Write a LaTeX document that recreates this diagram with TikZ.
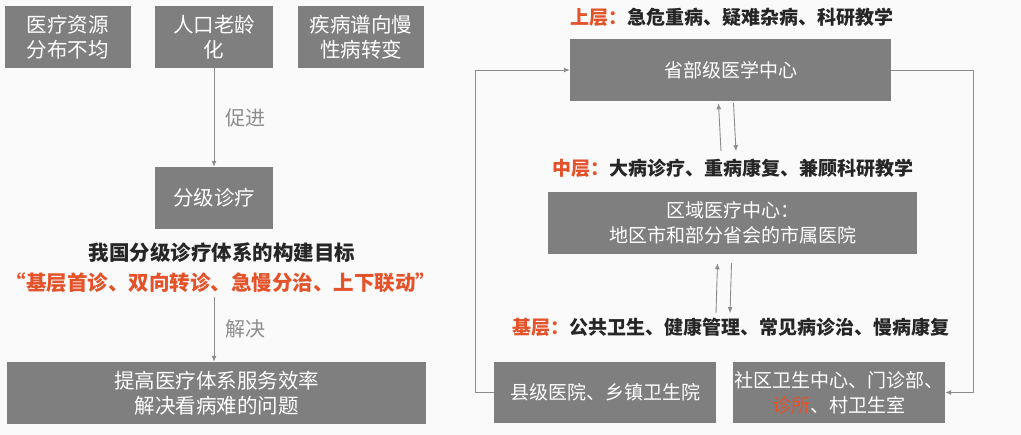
\documentclass[tikz,border=0pt]{standalone}
\usepackage{fontspec}
\setmainfont{Noto Sans CJK SC}
\usetikzlibrary{arrows.meta, positioning, calc}
\definecolor{boxgray}{RGB}{127, 127, 127}
\definecolor{linegray}{RGB}{140, 140, 140}
\definecolor{keyred}{RGB}{228, 82, 42}
\definecolor{paper}{RGB}{250, 250, 250}
\tikzset{
    box/.style={rectangle, fill=boxgray, text=white, align=center, font=\fontsize{19}{25}\selectfont, inner sep=0pt},
    bigbox/.style={box, font=\fontsize{20.5}{25}\selectfont},
    note/.style={font=\fontsize{19}{25}\selectfont\bfseries, text=black!85},
    bignote/.style={note, font=\fontsize{20.5}{25}\selectfont\bfseries},
    tag/.style={font=\fontsize{20}{25}\selectfont, text=linegray},
    flow/.style={draw=linegray, line width=0.9pt, -{Latex[length=6pt, width=5pt]}}
}
\begin{document}
\begin{tikzpicture}[x=1pt, y=-1pt]
    \fill[paper] (0,0) rectangle (1021,435);
    \useasboundingbox (0,0) rectangle (1021,435);

    % left: causes and goal
    \node[bigbox, minimum width=126, minimum height=62] (resource) at (68,37) {医疗资源\\分布不均};
    \node[bigbox, minimum width=118, minimum height=62] (aging) at (214,37) {人口老龄\\化};
    \node[bigbox, minimum width=126, minimum height=62] (chronic) at (361,37) {疾病谱向慢\\性病转变};
    \node[bigbox, minimum width=118, minimum height=62] (tiered) at (214,198) {分级诊疗};
    \node[bignote] (goal) at (222,253) {我国分级诊疗体系的构建目标};
    \node[bignote, text=keyred] (slogan) at (221,283) {“基层首诊、双向转诊、急慢分治、上下联动”};
    \node[bigbox, minimum width=419, minimum height=62] (solve) at (216.5,393) {提高医疗体系服务效率\\解决看病难的问题};

    \draw[flow] (aging.south) -- (tiered.north) node[tag, midway, right=8pt] (promote) {促进};
    \draw[flow] (slogan.south -| tiered.south) -- (solve.north -| tiered.south) node[tag, midway, right=8pt] (resolve) {解决};

    % right: three layers
    \node[note] (upper) at (732,17) {\textcolor{keyred}{上层：}急危重病、疑难杂病、科研教学};
    \node[box, minimum width=321, minimum height=62] (province) at (730.5,70) {省部级医学中心};
    \node[note] (middle) at (733,168) {\textcolor{keyred}{中层：}大病诊疗、重病康复、兼顾科研教学};
    \node[box, minimum width=369, minimum height=62] (region) at (732.5,223) {区域医疗中心：\\地区市和部分省会的市属医院};
    \node[note] (base) at (731,327) {\textcolor{keyred}{基层：}公共卫生、健康管理、常见病诊治、慢病康复};
    \node[box, minimum width=222, minimum height=61] (county) at (605,392.5) {县级医院、乡镇卫生院};
    \node[box, minimum width=212, minimum height=61] (clinic) at (839,392.5) {社区卫生中心、门诊部、\\\textcolor{keyred}{诊所}、村卫生室};

    \draw[flow] ([xshift=-12pt, yshift=4pt]middle.north) -- ([xshift=-12pt, yshift=-2pt]province.south);
    \draw[flow] ([xshift=3pt, yshift=-2pt]province.south) -- ([xshift=3pt, yshift=4pt]middle.north);
    \draw[flow] ([xshift=-15pt, yshift=1pt]base.north) -- ([xshift=-15pt, yshift=-9pt]region.south);
    \draw[flow] ([xshift=-1pt, yshift=-9pt]region.south) -- ([xshift=-1pt, yshift=1pt]base.north);

    \draw[flow] (county.west) -- ++(-18,0) |- (province.west);
    \draw[flow] (province.east) -- ++(82,0) |- (clinic.east);
\end{tikzpicture}
\end{document}
